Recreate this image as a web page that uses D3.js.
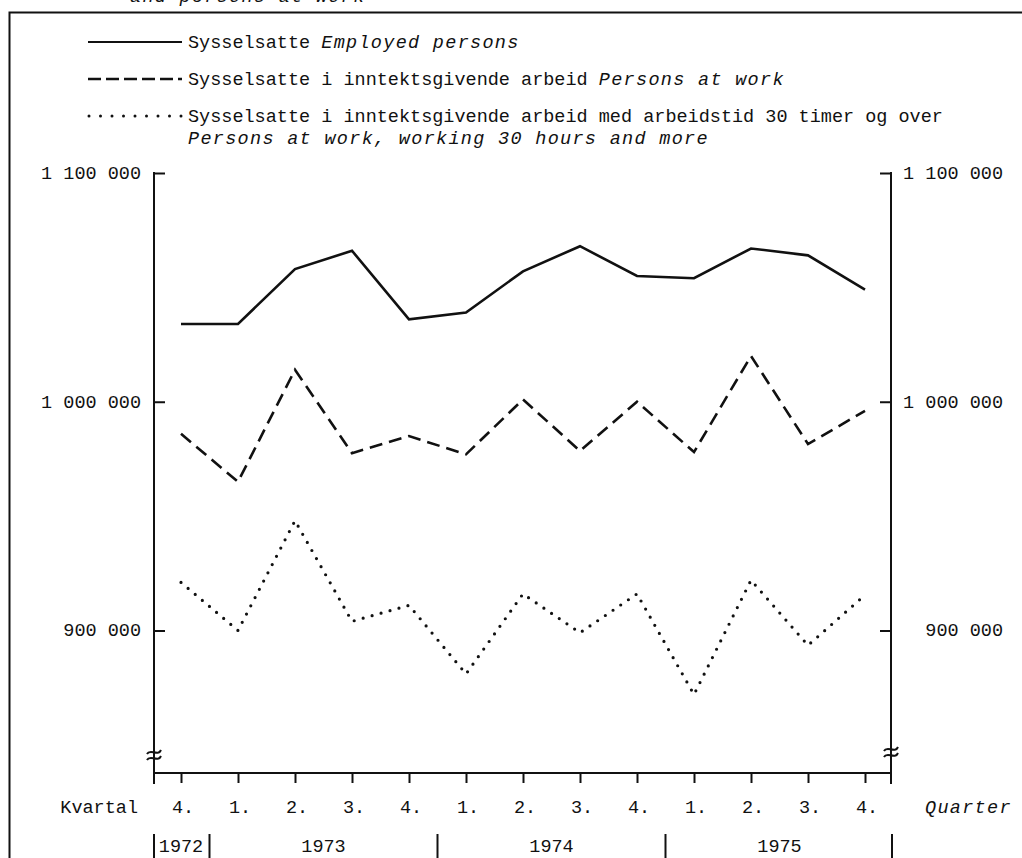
<!DOCTYPE html>
<html><head><meta charset="utf-8">
<script src="https://cdn.jsdelivr.net/npm/d3@7"></script>
<style>
html,body{margin:0;padding:0;background:#fff;}
text{font-family:"Liberation Mono","DejaVu Sans Mono",monospace;fill:#111;}
.it{font-style:italic;letter-spacing:1.3px;}
</style></head>
<body>
<script>
const quarters = ["4.","1.","2.","3.","4.","1.","2.","3.","4.","1.","2.","3.","4."];
const years = [
  {label:"1972", from:0, to:0},
  {label:"1973", from:1, to:4},
  {label:"1974", from:5, to:8},
  {label:"1975", from:9, to:12}
];
const employed   = [1034000,1034000,1058000,1066000,1036000,1039000,1057000,1068000,1055000,1054000,1067000,1064000,1049000];
const atWork     = [986000,965000,1014000,977500,985000,977000,1001000,978500,1000000,978000,1020000,981500,996000];
const atWork30   = [921000,900000,948000,904000,911000,881000,916000,899000,916000,872000,922000,893500,915500];
const yTicks = [900000,1000000,1100000];
const yTickLabels = ["900 000","1 000 000","1 100 000"];
const legendItems = [
  {no:"Sysselsatte", en:"Employed persons", style:"solid"},
  {no:"Sysselsatte i inntektsgivende arbeid", en:"Persons at work", style:"dash"},
  {no:"Sysselsatte i inntektsgivende arbeid med arbeidstid 30 timer og over", en:"Persons at work, working 30 hours and more", style:"dot"}
];

const W=1022,H=858;
const svg=d3.select("body").append("svg").attr("width",W).attr("height",H);
const FS=18.5;

// frame (cropped)
svg.append("path").attr("d","M9.5,"+(H+5)+"V12.5H"+(W+5)).attr("fill","none").attr("stroke","#111").attr("stroke-width",2);
// cropped title remnant
svg.append("text").attr("class","it").attr("x",130).attr("y",2).attr("font-size",FS).text("and persons at work");

const xL=154,xR=891,yTop=173,yBot=773;
const x=d3.scalePoint().domain(d3.range(quarters.length)).range([181,865]);
const y=d3.scaleLinear().domain([837700,1100000]).range([yBot,yTop]);

const g=svg.append("g");
// axes
const axL=g.append("g").attr("transform",`translate(${xL},0)`).call(d3.axisRight(y).tickValues(yTicks).tickSize(11).tickFormat(""));
const axR=g.append("g").attr("transform",`translate(${xR},0)`).call(d3.axisLeft(y).tickValues(yTicks).tickSize(11).tickFormat(""));
[axL,axR].forEach(a=>{a.select(".domain").remove();a.selectAll("line").attr("stroke","#111").attr("stroke-width",2);});
[xL,xR].forEach(xx=>{
  g.append("line").attr("x1",xx).attr("x2",xx).attr("y1",yTop-1).attr("y2",yBot+11).attr("stroke","#111").attr("stroke-width",2);
});
// break symbols
[[xL,755],[xR,752]].forEach(([xx,yy])=>{
  [-3,3].forEach(o=>{
    g.append("path").attr("d",`M${xx-7},${yy+o+2} C${xx-4},${yy+o-4} ${xx+4},${yy+o+5} ${xx+7},${yy+o-2}`)
     .attr("fill","none").attr("stroke","#111").attr("stroke-width",2);
  });
});
// x axis
const ax=g.append("g").attr("transform",`translate(0,${yBot})`).call(d3.axisBottom(x).tickSize(10).tickFormat(""));
ax.select(".domain").remove();
ax.selectAll("line").attr("stroke","#111").attr("stroke-width",2);
g.append("line").attr("x1",xL).attr("x2",xR).attr("y1",yBot).attr("y2",yBot).attr("stroke","#111").attr("stroke-width",2);

// y labels
yTicks.forEach((v,i)=>{
  svg.append("text").attr("x",141).attr("y",y(v)+6).attr("text-anchor","end").attr("font-size",FS).text(yTickLabels[i]);
  svg.append("text").attr("x",1003).attr("y",y(v)+6).attr("text-anchor","end").attr("font-size",FS).text(yTickLabels[i]);
});
// quarter labels
quarters.forEach((q,i)=>{
  svg.append("text").attr("x",x(i)+2).attr("y",813).attr("text-anchor","middle").attr("font-size",FS).text(q);
});
svg.append("text").attr("x",138).attr("y",813).attr("text-anchor","end").attr("font-size",FS).text("Kvartal");
svg.append("text").attr("class","it").attr("x",925).attr("y",813).attr("font-size",FS).text("Quarter");
// years
const step=x.step();
years.forEach((yr,i)=>{
  const cx=(x(yr.from)+x(yr.to))/2;
  svg.append("text").attr("x",cx).attr("y",852).attr("text-anchor","middle").attr("font-size",FS).text(yr.label);
  const bx=i===0?xL:x(yr.from)-step/2;
  svg.append("line").attr("x1",bx).attr("x2",bx).attr("y1",834).attr("y2",H).attr("stroke","#111").attr("stroke-width",2);
});
svg.append("line").attr("x1",xR+1).attr("x2",xR+1).attr("y1",834).attr("y2",H).attr("stroke","#111").attr("stroke-width",2);

// series
const line=d3.line().x((d,i)=>x(i)).y(d=>y(d));
const styles={
  solid:{dash:null,w:2.6,cap:"butt"},
  dash:{dash:"13 7",w:2.6,cap:"butt"},
  dot:{dash:"0 9.3",w:3.2,cap:"round"}
};
[[employed,"solid"],[atWork,"dash"],[atWork30,"dot"]].forEach(([data,s])=>{
  const st=styles[s];
  g.append("path").attr("d",line(data)).attr("fill","none").attr("stroke","#111")
   .attr("stroke-width",st.w).attr("stroke-linecap",st.cap).attr("stroke-linejoin","miter")
   .attr("stroke-dasharray",st.dash);
});

// legend
const legY=[48,85,122];
const legStyles={solid:{dash:null,w:2.2},dash:{dash:"13 5",w:2.6},dot:{dash:"0 11.5",w:3,cap:"round"}};
legendItems.forEach((it,i)=>{
  const st=legStyles[it.style];
  const x1 = it.style==="dot"?89:88, x2 = 182;
  svg.append("line").attr("x1",x1).attr("x2",x2).attr("y1",legY[i]-6).attr("y2",legY[i]-6)
    .attr("stroke","#111").attr("stroke-width",st.w).attr("stroke-dasharray",st.dash).attr("stroke-linecap",st.cap||"butt");
  if(it.style==="dot"){
    svg.append("text").attr("x",188).attr("y",legY[i]).attr("font-size",FS).text(it.no);
    svg.append("text").attr("class","it").attr("x",188).attr("y",legY[i]+21.5).attr("font-size",FS).text(it.en);
  } else {
    const t=svg.append("text").attr("x",188).attr("y",legY[i]).attr("font-size",FS);
    t.append("tspan").text(it.no+" ");
    t.append("tspan").attr("class","it").attr("font-style","italic").text(it.en);
  }
});
</script>
</body></html>
